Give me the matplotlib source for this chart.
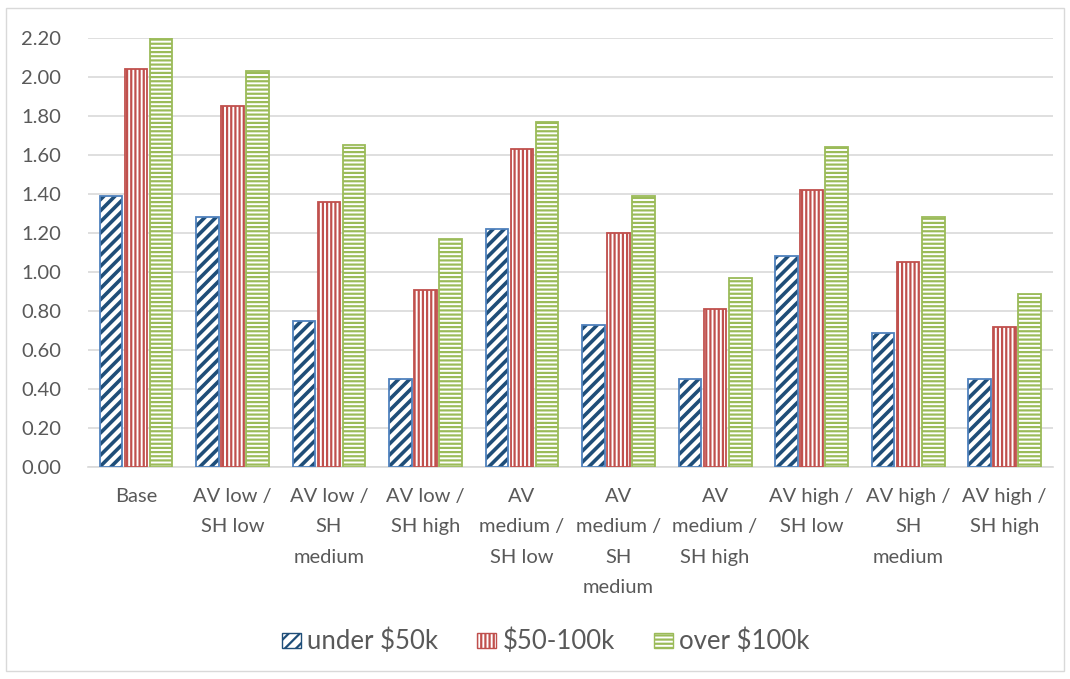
import numpy as np
import matplotlib.pyplot as plt
from matplotlib.patches import Rectangle, Patch

plt.rcParams['font.family'] = ['Lato', 'DejaVu Sans']
plt.rcParams['hatch.linewidth'] = 1.6

scenarios = ["Base", "AV low /\nSH low", "AV low /\nSH\nmedium", "AV low /\nSH high",
             "AV\nmedium /\nSH low", "AV\nmedium /\nSH\nmedium", "AV\nmedium /\nSH high",
             "AV high /\nSH low", "AV high /\nSH\nmedium", "AV high /\nSH high"]
under_50k = [1.39, 1.28, 0.75, 0.45, 1.22, 0.73, 0.45, 1.08, 0.69, 0.45]
mid_50_100k = [2.04, 1.85, 1.36, 0.91, 1.63, 1.20, 0.81, 1.42, 1.05, 0.72]
over_100k = [2.20, 2.03, 1.65, 1.17, 1.77, 1.39, 0.97, 1.64, 1.28, 0.89]
series_names = ["under $50k", "$50-100k", "over $100k"]

gray = '#595959'
fig = plt.figure(figsize=(10.7, 6.79), dpi=100)
fig.patches.append(Rectangle((0.006, 0.012), 0.988, 0.976, transform=fig.transFigure,
                             fill=False, edgecolor='#d9d9d9', linewidth=1))
ax = fig.add_axes([0.082, 0.312, 0.902, 0.632])

x = np.arange(len(scenarios))
w = 0.235
# under $50k: thick navy diagonal stripes inside a lighter blue outline
with plt.rc_context({'hatch.linewidth': 2.6}):
    ax.bar(x - 0.26, under_50k, w, facecolor='white', edgecolor='#1f4e79', hatch='///',
           linewidth=0, zorder=3)
    blue_handle = Patch(facecolor='white', edgecolor='#1f4e79', hatch='///')
ax.bar(x - 0.26, under_50k, w, fill=False, edgecolor='#4f81bd', linewidth=1.3, zorder=4)
ax.bar(x, mid_50_100k, w, facecolor='white', edgecolor='#c0504d', hatch='||||',
       linewidth=1.3, zorder=3)
ax.bar(x + 0.26, over_100k, w, facecolor='white', edgecolor='#9bbb59', hatch='----',
       linewidth=1.3, zorder=3)

ax.set_xlim(-0.5, len(scenarios) - 0.5)
ax.set_ylim(0, 2.2)
ax.set_yticks(np.arange(0, 2.21, 0.2))
ax.set_yticklabels([f"{v:.2f}" for v in np.arange(0, 2.21, 0.2)])
ax.set_xticks(x)
ax.set_xticklabels(scenarios, va='top', linespacing=1.95)
ax.tick_params(axis='both', length=0, colors=gray, labelsize=14.5)
ax.tick_params(axis='x', pad=15)
ax.tick_params(axis='y', pad=19)
ax.grid(axis='y', color='#d9d9d9', linewidth=1.2, zorder=0)
for s in ['top', 'right', 'left']:
    ax.spines[s].set_visible(False)
ax.spines['bottom'].set_color('#d9d9d9')
ax.spines['bottom'].set_linewidth(1.2)

handles = [blue_handle,
           Patch(facecolor='white', edgecolor='#c0504d', hatch='||||'),
           Patch(facecolor='white', edgecolor='#9bbb59', hatch='----')]
fig.legend(handles, series_names, loc='center', bbox_to_anchor=(0.51, 0.055), ncol=3,
           frameon=False, fontsize=18.5, labelcolor=gray, handlelength=0.75, handleheight=0.55,
           handletextpad=0.25, columnspacing=1.5)

fig.savefig('out.png', dpi=100)
